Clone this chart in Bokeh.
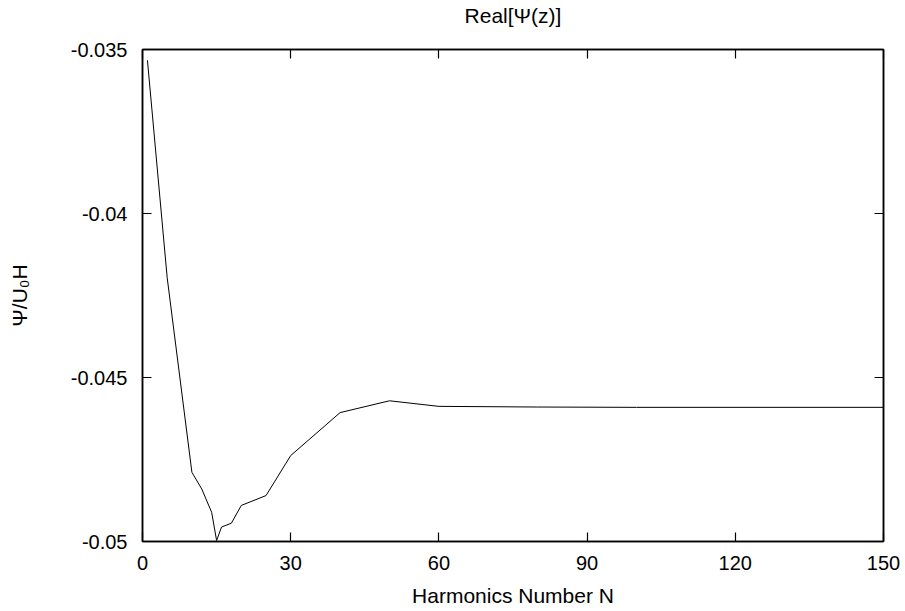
from bokeh.plotting import figure
from bokeh.models import Range1d, LinearAxis, FixedTicker
from bokeh.embed import file_html
from bokeh.resources import INLINE

# Data
harmonics_n = [1, 5, 10, 12, 14, 15, 16, 18, 20, 25, 30, 40, 50, 60, 80, 100, 150]
psi_real = [-0.03533, -0.04196, -0.04789, -0.04840, -0.04911, -0.04997, -0.04956,
            -0.04944, -0.04890, -0.04860, -0.04738, -0.04607, -0.04571, -0.04588,
            -0.04590, -0.04591, -0.04591]

x_ticks = [0, 30, 60, 90, 120, 150]
y_ticks = [-0.05, -0.045, -0.04, -0.035]
y_tick_labels = {-0.05: "-0.05", -0.045: "-0.045", -0.04: "-0.04", -0.035: "-0.035"}
title_text = "Real[Ψ(z)]"

FONT = "Liberation Sans"

p = figure(width=905, height=611, output_backend="svg", toolbar_location=None,
           x_range=Range1d(0, 150), y_range=Range1d(-0.05, -0.035),
           min_border_left=142, min_border_right=22, min_border_top=48, min_border_bottom=70)

p.xgrid.visible = False
p.ygrid.visible = False
p.outline_line_color = "black"
p.outline_line_width = 1.5
p.outline_line_alpha = 1.0
p.background_fill_color = "white"
p.border_fill_color = "white"

p.line(harmonics_n, psi_real, line_color="black", line_width=1)

xa = p.xaxis[0]
xa.ticker = FixedTicker(ticks=x_ticks)
xa.axis_label = "Harmonics Number N"
ya = p.yaxis[0]
ya.ticker = FixedTicker(ticks=y_ticks)
ya.major_label_overrides = y_tick_labels
ya.axis_label = "Ψ/U₀H"

for ax in (xa, ya):
    ax.major_tick_in = 9
    ax.major_tick_out = 0
    ax.minor_tick_line_color = None
    ax.axis_line_color = "black"
    ax.axis_line_width = 1.5
    ax.major_tick_line_width = 1.2
    ax.major_label_text_font = FONT
    ax.major_label_text_font_size = "20px"
    ax.major_label_text_color = "black"
    ax.axis_label_text_font = FONT
    ax.axis_label_text_font_size = "21px"
    ax.axis_label_text_font_style = "normal"
    ax.axis_label_text_color = "black"

xa.major_label_standoff = 14
xa.axis_label_standoff = 11
ya.major_label_standoff = 15
ya.axis_label_standoff = 37

top = LinearAxis(ticker=FixedTicker(ticks=x_ticks))
right = LinearAxis(ticker=FixedTicker(ticks=y_ticks))
for ax in (top, right):
    ax.major_tick_in = 9
    ax.major_tick_out = 0
    ax.minor_tick_line_color = None
    ax.axis_line_color = "black"
    ax.axis_line_width = 1.5
    ax.major_tick_line_width = 1.2
    ax.major_label_text_font_size = "0px"
    ax.major_label_standoff = 0
    ax.major_label_text_alpha = 0

# chart title drawn as the label of the mirrored top axis
top.axis_label = title_text
top.axis_label_text_font = FONT
top.axis_label_text_font_size = "21px"
top.axis_label_text_font_style = "normal"
top.axis_label_text_color = "black"
top.axis_label_standoff = 23

p.add_layout(top, "above")
p.add_layout(right, "right")

open("out.html", "w").write(file_html(p, INLINE))
